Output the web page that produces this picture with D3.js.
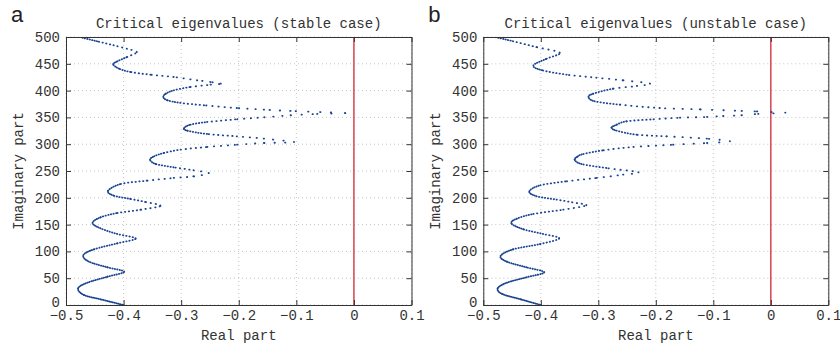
<!DOCTYPE html>
<html>
<head>
<meta charset="utf-8">
<script src="https://cdn.jsdelivr.net/npm/d3@7"></script>
<style>
  body { margin: 0; background: #fff; }
  svg { display: block; }
</style>
</head>
<body>
<div id="chart"></div>
<script>
"use strict";

// values
const xTicks = [-0.5, -0.4, -0.3, -0.2, -0.1, 0, 0.1];
const yTicks = [0, 50, 100, 150, 200, 250, 300, 350, 400, 450, 500];
const panelLetters = ["a", "b"];
const panelTitles = ["Critical eigenvalues (stable case)", "Critical eigenvalues (unstable case)"];
const xLabel = "Real part";
const yLabel = "Imaginary part";
const stabilityBoundary = 0;

// [real part, imaginary part], ordered by imaginary part
const stableCurve = [
  [-0.400, 0], [-0.440, 10.6], [-0.469, 18.7], [-0.479, 31], [-0.463, 41.6],
  [-0.428, 52.8], [-0.399, 62], [-0.428, 70.3], [-0.460, 80.8], [-0.470, 93],
  [-0.451, 104], [-0.411, 115], [-0.379, 124], [-0.411, 132.5], [-0.440, 143],
  [-0.454, 153], [-0.440, 163.6], [-0.411, 171.6], [-0.370, 177.8], [-0.336, 185],
  [-0.362, 192.2], [-0.388, 197.8], [-0.417, 204], [-0.427, 213], [-0.405, 225.7],
  [-0.359, 232], [-0.313, 237], [-0.278, 240], [-0.252, 246], [-0.278, 251.3],
  [-0.313, 256.9], [-0.344, 263], [-0.354, 271], [-0.347, 277.4], [-0.330, 283.6],
  [-0.301, 289.8], [-0.255, 294.8], [-0.203, 299.1], [-0.156, 302.2], [-0.104, 304],
  [-0.156, 310.3], [-0.203, 314.7], [-0.255, 319], [-0.289, 325.2], [-0.295, 330],
  [-0.284, 336.4], [-0.255, 341.4], [-0.203, 346.5], [-0.156, 350.2], [-0.110, 354],
  [-0.064, 356.4], [-0.015, 358], [-0.058, 360], [-0.110, 362], [-0.156, 364.4],
  [-0.203, 367.5], [-0.260, 372.6], [-0.301, 377], [-0.324, 382], [-0.331, 388],
  [-0.327, 394], [-0.313, 400.5], [-0.284, 406.7], [-0.249, 411], [-0.231, 413],
  [-0.249, 416], [-0.272, 419.2], [-0.313, 425.4], [-0.353, 429.7], [-0.388, 434.7],
  [-0.408, 441], [-0.418, 449], [-0.411, 454.6], [-0.394, 462.7], [-0.377, 472],
  [-0.394, 478], [-0.417, 484.5], [-0.446, 492], [-0.477, 500]
];

const unstableCurve = [
  [-0.400, 0], [-0.435, 10.6], [-0.467, 20.5], [-0.475, 31], [-0.459, 41.6],
  [-0.425, 51.7], [-0.394, 61], [-0.425, 70.3], [-0.459, 80.8], [-0.470, 91.4],
  [-0.448, 103.9], [-0.401, 113.8], [-0.368, 124.4], [-0.396, 132.5], [-0.430, 141.2],
  [-0.451, 152], [-0.442, 161], [-0.413, 169.8], [-0.361, 177.8], [-0.321, 186],
  [-0.345, 191.5], [-0.372, 196.5], [-0.407, 202.8], [-0.420, 212], [-0.401, 223.3],
  [-0.355, 230.8], [-0.303, 237], [-0.257, 243.1], [-0.230, 247.5], [-0.286, 255.6],
  [-0.329, 263], [-0.341, 271], [-0.336, 277], [-0.326, 281.7], [-0.291, 288.6],
  [-0.239, 294.8], [-0.170, 299], [-0.111, 302.2], [-0.071, 305.4], [-0.111, 310.3],
  [-0.181, 314.7], [-0.233, 317.7], [-0.268, 325.2], [-0.277, 331], [-0.268, 336.4],
  [-0.251, 342.7], [-0.204, 346.5], [-0.158, 349.4], [-0.111, 350.8], [-0.083, 352.6],
  [-0.051, 354], [-0.022, 356.4], [0.025, 358.8], [0.0015, 360], [-0.0275, 361.3],
  [-0.062, 362.5], [-0.123, 365], [-0.193, 367.5], [-0.262, 373.7], [-0.306, 380],
  [-0.317, 388], [-0.309, 394.2], [-0.274, 403.6], [-0.233, 408.6], [-0.210, 413],
  [-0.257, 419.2], [-0.303, 424], [-0.355, 429.7], [-0.398, 438], [-0.413, 447],
  [-0.390, 459.5], [-0.367, 470.7], [-0.407, 481], [-0.448, 492], [-0.480, 500]
];

const curves = [stableCurve, unstableCurve];

const svgWidth = 840;
const svgHeight = 347;
const plotTop = 37;
const plotBottom = 305;
const panelBounds = [[66, 411.5], [483.3, 828.3]];
const monoFont = "'Liberation Mono', 'DejaVu Sans Mono', monospace";
const inkColor = "#333";
const dotColor = "#1b4493";

const svg = d3.select("#chart")
  .append("svg")
  .attr("width", svgWidth)
  .attr("height", svgHeight)
;

panelLetters.forEach((letter, p) => {
  const [left, right] = panelBounds[p];
  const curve = curves[p];

  const xScale = d3.scaleLinear()
    .domain([xTicks[0], xTicks[xTicks.length - 1]])
    .range([left, right])
  ;
  const yScale = d3.scaleLinear()
    .domain([yTicks[0], yTicks[yTicks.length - 1]])
    .range([plotBottom, plotTop])
  ;

  const g = svg.append("g");

  g.append("clipPath")
    .attr("id", `clip-${p}`)
    .append("rect")
    .attr("x", left)
    .attr("y", plotTop)
    .attr("width", right - left)
    .attr("height", plotBottom - plotTop)
  ;

  // dotted grid
  g.append("g")
    .selectAll("line")
    .data(xTicks)
    .join("line")
    .attr("x1", d => xScale(d))
    .attr("x2", d => xScale(d))
    .attr("y1", plotTop)
    .attr("y2", plotBottom)
    .attr("stroke", "#c4c4c4")
    .attr("stroke-dasharray", "1 3")
  ;
  g.append("g")
    .selectAll("line")
    .data(yTicks)
    .join("line")
    .attr("x1", left)
    .attr("x2", right)
    .attr("y1", d => yScale(d))
    .attr("y2", d => yScale(d))
    .attr("stroke", "#c4c4c4")
    .attr("stroke-dasharray", "1 3")
  ;

  // stability boundary
  g.append("line")
    .attr("x1", xScale(stabilityBoundary))
    .attr("x2", xScale(stabilityBoundary))
    .attr("y1", yScale(yTicks[0]))
    .attr("y2", yScale(yTicks[yTicks.length - 1]))
    .attr("stroke", "#d64550")
    .attr("stroke-width", 1.5)
  ;

  // eigenvalue locus: smooth pieces, dots get sparser as the locus swings right
  const pts = curve.map(d => [xScale(d[0]), yScale(d[1])]);
  const n = pts.length;
  const pieces = d3.range(n - 1).map(i => {
    const p0 = pts[Math.max(i - 1, 0)];
    const p1 = pts[i];
    const p2 = pts[i + 1];
    const p3 = pts[Math.min(i + 2, n - 1)];
    const c1 = [p1[0] + (p2[0] - p0[0]) / 6, p1[1] + (p2[1] - p0[1]) / 6];
    const c2 = [p2[0] - (p3[0] - p1[0]) / 6, p2[1] - (p3[1] - p1[1]) / 6];
    const imMid = (curve[i][1] + curve[i + 1][1]) / 2;
    const xMid = (p1[0] + p2[0]) / 2;
    const leftEdge = d3.min(curve.filter(d => Math.abs(d[1] - imMid) <= 25), d => xScale(d[0]));
    const gap = 1.8 + 0.075 * (xMid - leftEdge) * Math.min(1, imMid / 230);
    return {d: `M${p1}C${c1} ${c2} ${p2}`, gap: gap};
  });

  g.append("g")
    .attr("clip-path", `url(#clip-${p})`)
    .selectAll("path")
    .data(pieces)
    .join("path")
    .attr("d", d => d.d)
    .attr("fill", "none")
    .attr("stroke", dotColor)
    .attr("stroke-width", 1.8)
    .attr("stroke-linecap", "round")
    .attr("stroke-dasharray", d => `0.4 ${Math.max(d.gap - 0.4, 0.8)}`)
  ;

  // axes with inward ticks on all four sides
  const xFormat = d => d === 0 ? "0" : d3.format(".1f")(d);

  const xAxis = g.append("g")
    .attr("transform", `translate(0, ${plotBottom})`)
    .call(d3.axisBottom(xScale).tickValues(xTicks).tickFormat(xFormat)
      .tickSizeInner(-5).tickSizeOuter(0).tickPadding(5))
  ;
  const yAxis = g.append("g")
    .attr("transform", `translate(${left}, 0)`)
    .call(d3.axisLeft(yScale).tickValues(yTicks).tickFormat(d3.format("d"))
      .tickSizeInner(-5).tickSizeOuter(0).tickPadding(6))
  ;
  const topAxis = g.append("g")
    .attr("transform", `translate(0, ${plotTop})`)
    .call(d3.axisTop(xScale).tickValues(xTicks).tickFormat("")
      .tickSizeInner(-5).tickSizeOuter(0))
  ;
  const rightAxis = g.append("g")
    .attr("transform", `translate(${right}, 0)`)
    .call(d3.axisRight(yScale).tickValues(yTicks).tickFormat("")
      .tickSizeInner(-5).tickSizeOuter(0))
  ;

  [xAxis, yAxis, topAxis, rightAxis].forEach(a => {
    a.selectAll("path, line").attr("stroke", inkColor);
    a.selectAll("text")
      .attr("fill", inkColor)
      .style("font-family", monoFont)
      .style("font-size", "14px")
    ;
  });
  // lift the lowest y label a touch so it clears the x labels
  yAxis.selectAll(".tick text").filter(d => d === 0).attr("dy", "0.1em");

  const centerX = (left + right) / 2;

  g.append("text")
    .attr("x", centerX)
    .attr("y", 27.5)
    .attr("text-anchor", "middle")
    .attr("fill", inkColor)
    .style("font-family", monoFont)
    .style("font-size", "14px")
    .text(panelTitles[p])
  ;

  g.append("text")
    .attr("x", centerX)
    .attr("y", 340)
    .attr("text-anchor", "middle")
    .attr("fill", inkColor)
    .style("font-family", monoFont)
    .style("font-size", "14px")
    .text(xLabel)
  ;

  g.append("text")
    .attr("transform", `translate(${left - 43.5}, ${(plotTop + plotBottom) / 2}) rotate(-90)`)
    .attr("text-anchor", "middle")
    .attr("fill", inkColor)
    .style("font-family", monoFont)
    .style("font-size", "14px")
    .text(yLabel)
  ;

  g.append("text")
    .attr("x", left - 55)
    .attr("y", 22)
    .attr("fill", "#222")
    .style("font-family", "'Liberation Sans', Arial, sans-serif")
    .style("font-size", "22px")
    .text(letter)
  ;
});
</script>
</body>
</html>
